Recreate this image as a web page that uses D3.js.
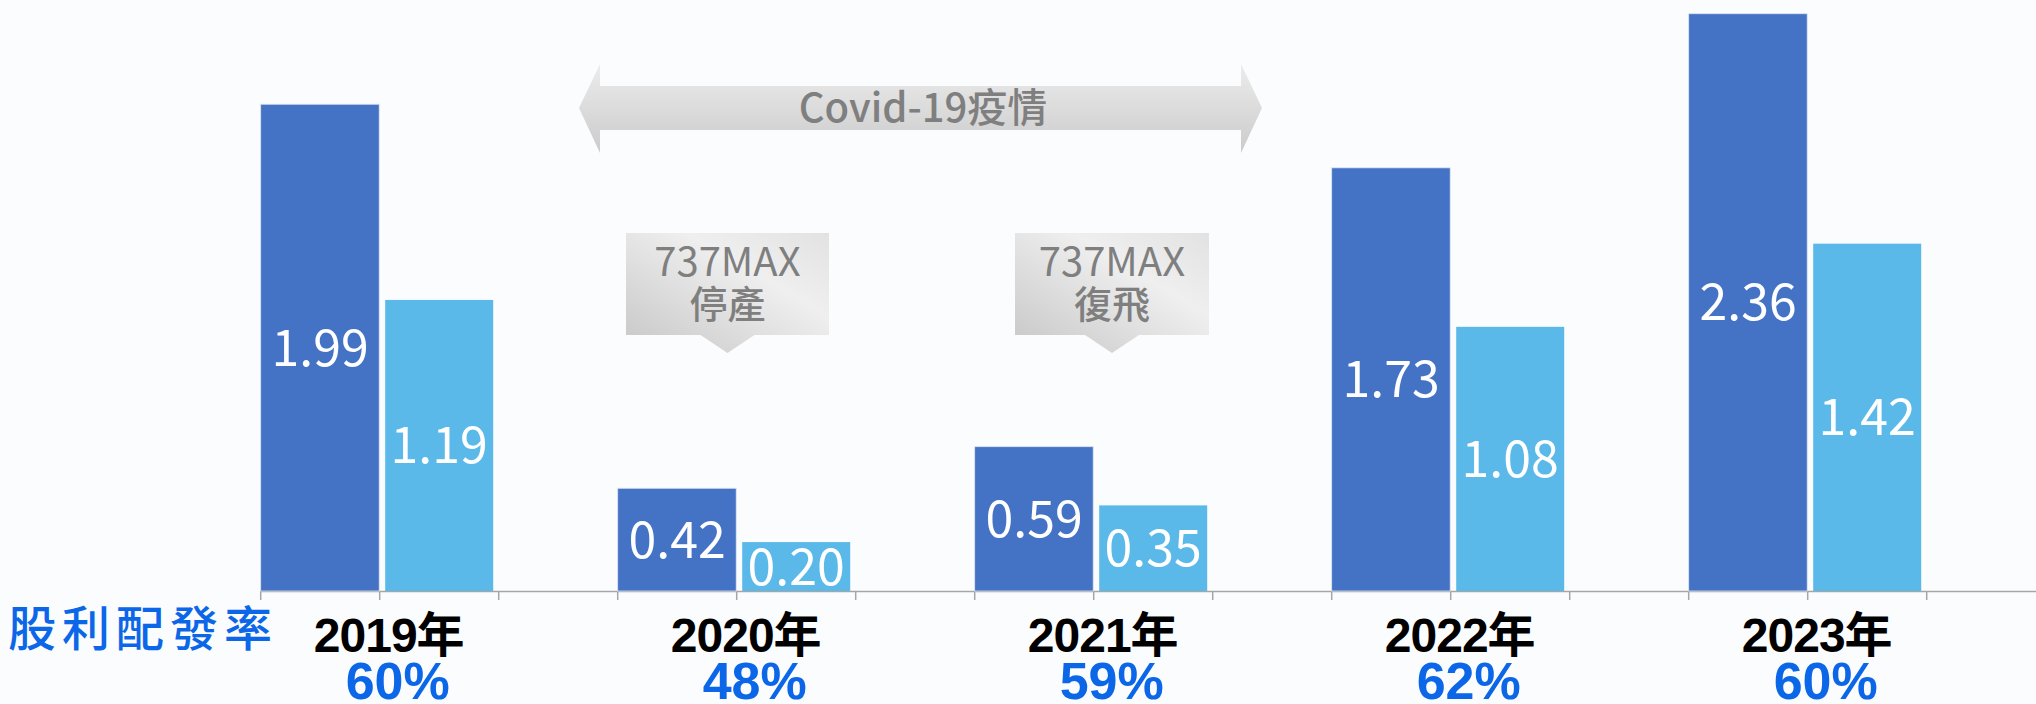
<!DOCTYPE html>
<html>
<head>
<meta charset="utf-8">
<script src="https://cdn.jsdelivr.net/npm/d3@7"></script>
<style>
  html, body { margin: 0; padding: 0; background: #fbfcfe; }
  svg { display: block; }
</style>
</head>
<body>
<div id="chart"></div>
<script>
// data
var years = ["2019年", "2020年", "2021年", "2022年", "2023年"];
var eps = [1.99, 0.42, 0.59, 1.73, 2.36];
var dividend = [1.19, 0.20, 0.35, 1.08, 1.42];
var payout = ["60%", "48%", "59%", "62%", "60%"];

var width = 2036, height = 704;
var base = 591;
var cjk = "'Noto Sans CJK TC', 'Noto Sans', sans-serif";
var arial = "'Liberation Sans', Arial, 'Noto Sans CJK TC', sans-serif";

var svg = d3.select("#chart").append("svg")
    .attr("width", width)
    .attr("height", height);

svg.append("rect").attr("width", width).attr("height", height).attr("fill", "#fbfcfe");

var defs = svg.append("defs");
var g1 = defs.append("linearGradient").attr("id", "arrowGrad")
    .attr("x1", 0).attr("y1", 0).attr("x2", 0).attr("y2", 1);
g1.append("stop").attr("offset", "0%").attr("stop-color", "#ececec");
g1.append("stop").attr("offset", "100%").attr("stop-color", "#cbcbcb");
var g2 = defs.append("linearGradient").attr("id", "boxGrad")
    .attr("x1", 0).attr("y1", 1).attr("x2", 1).attr("y2", 0);
g2.append("stop").attr("offset", "0%").attr("stop-color", "#c6c6c6");
g2.append("stop").attr("offset", "65%").attr("stop-color", "#efefef");
g2.append("stop").attr("offset", "100%").attr("stop-color", "#e2e2e2");

// scales
var x = d3.scaleBand()
    .domain(years)
    .range([260.7, 260.7 + 357 * years.length])
    .padding(0);
var sub = d3.scaleBand()
    .domain(["eps", "div", "gap"])
    .range([0, x.bandwidth()]);
var y = d3.scaleLinear()
    .domain([0, 2.4])
    .range([base, base - 2.4 * 244.6]);

var rows = years.map(function (d, i) {
    return { year: d, eps: eps[i], div: dividend[i], pct: payout[i] };
});

// axis line + ticks
svg.append("line")
    .attr("x1", x(years[0])).attr("x2", width)
    .attr("y1", base + 0.5).attr("y2", base + 0.5)
    .attr("stroke", "#a6a6a6").attr("stroke-width", 1.5);
var tickPos = [];
years.forEach(function (d) {
    sub.domain().forEach(function (s) { tickPos.push(x(d) + sub(s)); });
});
svg.selectAll(".tick").data(tickPos).enter().append("line")
    .attr("x1", function (d) { return d; }).attr("x2", function (d) { return d; })
    .attr("y1", base).attr("y2", base + 9)
    .attr("stroke", "#a6a6a6").attr("stroke-width", 1.5);

// bars
svg.selectAll(".eps").data(rows).enter().append("rect")
    .attr("x", function (d) { return x(d.year) + sub("eps"); })
    .attr("y", function (d) { return y(d.eps); })
    .attr("width", sub.bandwidth() - 0.5)
    .attr("height", function (d) { return base - y(d.eps); })
    .attr("fill", "#4472c4")
    .attr("stroke", "#dce4f2").attr("stroke-width", 0.8);

svg.selectAll(".div").data(rows).enter().append("rect")
    .attr("x", function (d) { return x(d.year) + sub("div") + 5.5; })
    .attr("y", function (d) { return y(d.div); })
    .attr("width", sub.bandwidth() - 11)
    .attr("height", function (d) { return base - y(d.div); })
    .attr("fill", "#5bb9ea");

// value labels
svg.selectAll(".epsLbl").data(rows).enter().append("text")
    .attr("x", function (d) { return x(d.year) + sub("eps") + sub.bandwidth() / 2; })
    .attr("y", function (d) { return (y(d.eps) + base) / 2 + 18; })
    .attr("text-anchor", "middle")
    .attr("fill", "#fff")
    .style("font-family", cjk).style("font-size", "50px")
    .text(function (d) { return d.eps.toFixed(2); });

svg.selectAll(".divLbl").data(rows).enter().append("text")
    .attr("x", function (d) { return x(d.year) + sub("div") + sub.bandwidth() / 2; })
    .attr("y", function (d) { return (y(d.div) + base) / 2 + 18; })
    .attr("text-anchor", "middle")
    .attr("fill", "#fff")
    .style("font-family", cjk).style("font-size", "50px")
    .text(function (d) { return d.div.toFixed(2); });

// year labels + payout ratio
svg.selectAll(".yr").data(rows).enter().append("text")
    .attr("x", function (d) { return x(d.year) + 128; })
    .attr("y", 652)
    .attr("text-anchor", "middle")
    .attr("fill", "#000")
    .style("font-family", arial).style("font-weight", "bold").style("font-size", "48px")
    .style("letter-spacing", "-1px")
    .text(function (d) { return d.year; });

svg.selectAll(".pct").data(rows).enter().append("text")
    .attr("x", function (d) { return x(d.year) + 137; })
    .attr("y", 699)
    .attr("text-anchor", "middle")
    .attr("fill", "#0b67e8")
    .style("font-family", arial).style("font-weight", "bold").style("font-size", "52px")
    .text(function (d) { return d.pct; });

svg.append("text")
    .attr("x", 8).attr("y", 646)
    .attr("fill", "#0b67e8")
    .style("font-family", cjk).style("font-weight", "500").style("font-size", "48px")
    .style("letter-spacing", "6px")
    .text("股利配發率");

// Covid-19 double arrow
var arrowPts = [[579, 108], [600, 64], [600, 86], [1241, 86], [1241, 64], [1262, 108],
    [1241, 153], [1241, 130], [600, 130], [600, 153]];
svg.append("path")
    .attr("d", d3.line()(arrowPts) + "Z")
    .attr("fill", "url(#arrowGrad)");
svg.append("text")
    .attr("x", 923).attr("y", 122)
    .attr("text-anchor", "middle")
    .attr("fill", "#7f7f7f")
    .style("font-family", cjk).style("font-weight", "500").style("font-size", "40px")
    .text("Covid-19疫情");

// 737MAX callouts
var callouts = [
    { x0: 626, x1: 829, lines: ["737MAX", "停產"] },
    { x0: 1015, x1: 1209, lines: ["737MAX", "復飛"] }
];
callouts.forEach(function (c) {
    var cx = (c.x0 + c.x1) / 2;
    var pts = [[c.x0, 233], [c.x1, 233], [c.x1, 335], [cx + 27, 335], [cx, 353],
        [cx - 27, 335], [c.x0, 335]];
    svg.append("path").attr("d", d3.line()(pts) + "Z").attr("fill", "url(#boxGrad)");
    svg.append("text")
        .attr("x", cx).attr("y", 276)
        .attr("text-anchor", "middle").attr("fill", "#7f7f7f")
        .style("font-family", cjk).style("font-size", "40px")
        .text(c.lines[0]);
    svg.append("text")
        .attr("x", cx).attr("y", 318)
        .attr("text-anchor", "middle").attr("fill", "#7f7f7f")
        .style("font-family", cjk).style("font-weight", "500").style("font-size", "38px")
        .text(c.lines[1]);
});
</script>
</body>
</html>
